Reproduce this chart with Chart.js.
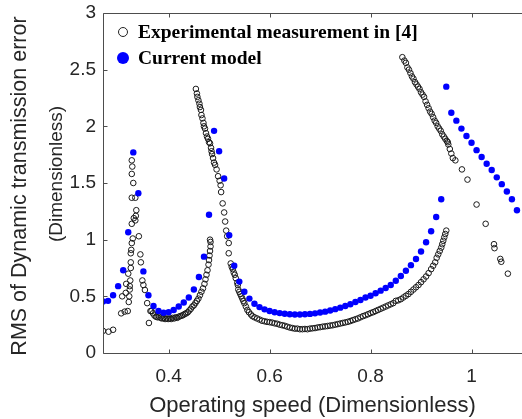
<!DOCTYPE html>
<html><head><meta charset="utf-8">
<script src="https://cdn.jsdelivr.net/npm/chart.js@4.4.1/dist/chart.umd.min.js"></script>
<style>
html,body{margin:0;padding:0;background:#fff;}
#wrap{position:relative;width:522px;height:419px;overflow:hidden;}
#legend{position:absolute;left:0;top:0;width:522px;height:80px;pointer-events:none;font:bold 19.5px "Liberation Serif","Times New Roman",serif;color:#000;}
.row{position:absolute;left:138px;white-space:nowrap;line-height:22px;height:22px;}
.mk{position:absolute;border-radius:50%;box-sizing:border-box;}
</style></head><body>
<div id="wrap"><canvas id="c" width="522" height="419"></canvas>
<div id="legend">
  <span class="mk" style="left:118px;top:27px;width:10px;height:10px;border:1.2px solid #222;background:#fff"></span>
  <span class="row" id="lg0" style="top:21px"></span>
  <span class="mk" style="left:117px;top:52px;width:12px;height:12px;background:#0000ff"></span>
  <span class="row" id="lg1" style="top:47px"></span>
</div></div>
<script>
// ---- data ----
const legendLabels = ['Experimental measurement in [4]', 'Current model'];
const xTitle = 'Operating speed (Dimensionless)';
const yTitle = ['RMS of Dynamic transmission error', '(Dimensionless)'];
const xTickValues = [0.4, 0.6, 0.8, 1.0];
const yTickValues = [0, 0.5, 1, 1.5, 2, 2.5, 3];

const expSpeed = [
0.270,0.281,0.290,
0.306,0.308,0.313,0.315,0.316,0.319,0.320,0.321,0.322,0.323,0.323,0.324,0.325,0.325,0.325,0.326,0.327,0.329,0.327,0.331,0.334,0.335,0.336,0.327,0.334,0.330,0.327,0.328,0.327,
0.341,0.344,0.345,0.348,0.350,0.353,0.3575,0.361,0.364,
0.366,0.369,0.372,0.375,0.378,0.381,0.384,0.387,0.390,0.393,0.396,0.399,0.402,0.405,0.408,0.411,0.414,0.417,0.420,0.423,0.426,0.429,0.432,0.435,0.438,0.441,0.444,0.447,0.450,0.453,0.456,0.459,0.462,0.465,0.468,0.471,0.473,0.475,0.477,0.479,0.480,0.481,0.482,0.483,0.483,0.482,
0.454,0.456,0.457,0.459,0.461,0.462,0.464,0.465,0.467,0.469,0.470,0.472,0.474,0.476,0.478,0.480,0.482,0.484,0.485,0.486,0.488,0.490,0.492,0.495,0.498,0.501,0.503,0.504,0.507,0.510,0.512,0.514,0.516,0.519,0.519,0.523,0.525,0.527,0.529,0.531,0.533,0.536,0.537,0.538,0.540,0.542,0.544,0.546,0.548,0.550,0.553,0.556,0.559,0.563,0.566,0.570,0.575,0.580,0.585,0.590,0.595,0.600,0.605,0.610,0.615,0.620,0.625,0.630,0.635,0.640,0.645,0.650,0.655,0.660,0.665,0.670,0.675,0.680,0.685,0.690,0.695,0.700,0.705,0.710,0.715,0.720,0.725,0.730,0.735,0.740,0.745,0.750,0.755,0.760,0.765,0.770,0.775,0.780,0.785,0.790,0.795,0.800,0.805,0.810,0.815,0.820,0.825,0.830,0.835,0.840,0.845,0.850,0.855,0.860,0.865,0.870,0.875,0.880,0.885,0.890,0.895,0.900,0.905,0.910,0.915,0.920,0.924,0.928,0.931,0.934,0.937,0.940,0.942,0.944,0.946,0.948,0.950,
0.863,0.867,0.870,0.873,0.876,0.879,0.882,0.885,0.888,0.891,0.894,0.897,0.900,0.903,0.906,0.909,0.912,0.915,0.918,0.921,0.924,0.927,0.930,0.933,0.936,0.939,0.942,0.945,0.948,0.951,0.954,0.953,0.957,0.960,0.963,0.968,0.981,0.992,1.010,1.028,1.0445,1.0455,1.057,1.059,1.072
];
const expRms = [
0.195,0.188,0.205,
0.35,0.50,0.365,0.53,0.61,0.37,0.70,0.45,0.50,0.56,0.59,0.64,0.75,0.80,0.88,0.91,0.97,1.01,1.14,1.19,1.17,1.21,1.26,1.37,1.37,1.50,1.58,1.645,1.70,
1.03,0.87,0.80,0.64,0.60,0.556,0.44,0.265,0.37,
0.37,0.35,0.33,0.32,0.315,0.32,0.31,0.305,0.31,0.30,0.305,0.30,0.305,0.30,0.31,0.305,0.315,0.31,0.32,0.325,0.33,0.335,0.345,0.35,0.36,0.375,0.39,0.41,0.42,0.44,0.46,0.48,0.51,0.54,0.57,0.61,0.65,0.69,0.73,0.78,0.82,0.86,0.90,0.94,0.98,1.00,
2.33,2.29,2.26,2.23,2.20,2.17,2.145,2.10,2.07,2.03,2.00,1.98,1.94,1.91,1.89,1.86,1.85,1.81,1.78,1.755,1.72,1.68,1.66,1.62,1.56,1.52,1.48,1.42,1.32,1.24,1.16,1.08,1.03,0.97,0.88,0.79,0.76,0.74,0.71,0.69,0.66,0.62,0.60,0.56,0.54,0.52,0.50,0.48,0.46,0.44,0.41,0.38,0.36,0.34,0.325,0.315,0.305,0.295,0.285,0.28,0.275,0.272,0.268,0.262,0.258,0.25,0.245,0.24,0.232,0.225,0.22,0.215,0.215,0.21,0.21,0.212,0.21,0.215,0.218,0.22,0.225,0.228,0.232,0.235,0.238,0.242,0.245,0.25,0.255,0.26,0.265,0.27,0.275,0.282,0.29,0.298,0.305,0.315,0.325,0.333,0.342,0.352,0.36,0.37,0.38,0.39,0.40,0.41,0.42,0.43,0.44,0.46,0.465,0.475,0.49,0.505,0.52,0.54,0.56,0.58,0.60,0.625,0.65,0.675,0.705,0.74,0.77,0.80,0.84,0.87,0.90,0.93,0.96,0.99,1.02,1.05,1.08,
2.61,2.58,2.56,2.52,2.50,2.47,2.44,2.42,2.39,2.37,2.35,2.33,2.30,2.28,2.26,2.22,2.19,2.16,2.13,2.11,2.08,2.05,2.03,2.00,1.98,1.96,1.93,1.91,1.89,1.87,1.84,1.86,1.80,1.76,1.72,1.70,1.62,1.53,1.31,1.14,0.96,0.925,0.83,0.805,0.70
];

const modelSpeed = [
0.27,0.28,0.29,0.30,0.31,0.32,0.33,0.34,0.35,0.36,0.37,0.38,0.39,0.40,0.41,0.42,0.43,0.44,0.45,0.46,0.47,0.48,0.49,0.50,0.51,0.52,0.53,0.54,0.55,0.56,0.57,0.58,0.59,0.60,0.61,0.62,0.63,0.64,0.65,0.66,0.67,0.68,0.69,0.70,0.71,0.72,0.73,0.74,0.75,0.76,0.77,0.78,0.79,0.80,0.81,0.82,0.83,0.84,0.85,0.86,0.87,0.88,0.89,0.90,0.91,0.92,0.93,0.94,0.95,0.96,0.97,0.98,0.99,1.00,1.01,1.02,1.03,1.04,1.05,1.06,1.07,1.08,1.09
];
const modelRms = [
0.455,0.46,0.51,0.59,0.73,1.065,1.77,1.41,0.72,0.51,0.415,0.37,0.355,0.36,0.38,0.41,0.445,0.49,0.56,0.67,0.85,1.22,1.96,1.78,1.54,1.04,0.77,0.63,0.54,0.48,0.435,0.405,0.385,0.37,0.36,0.352,0.346,0.342,0.34,0.34,0.342,0.345,0.35,0.357,0.365,0.375,0.387,0.40,0.415,0.43,0.45,0.468,0.49,0.505,0.527,0.55,0.573,0.60,0.638,0.68,0.726,0.775,0.83,0.895,0.977,1.074,1.20,1.357,2.35,2.12,2.05,1.98,1.915,1.855,1.79,1.73,1.67,1.615,1.55,1.49,1.425,1.357,1.26
];

document.getElementById('lg0').textContent = legendLabels[0];
document.getElementById('lg1').textContent = legendLabels[1];

const axisColor = '#262626';
const fontFam = '"Liberation Sans", Arial, Helvetica, sans-serif';
const fmt = v => String(+Number(v).toFixed(2));

const boxPlugin = {
  id: 'boxPlugin',
  afterDraw(chart) {
    const ctx = chart.ctx, a = chart.chartArea;
    const xs = chart.scales.x, ys = chart.scales.y;
    ctx.save();
    ctx.strokeStyle = '#4d4d4d';
    ctx.lineWidth = 1;
    const L = Math.round(a.left) + 0.5, B = Math.round(a.bottom) + 0.5, T = Math.round(a.top) + 0.5, R = a.right;
    ctx.beginPath();
    ctx.moveTo(L, T); ctx.lineTo(R, T);
    ctx.moveTo(L, T); ctx.lineTo(L, B); ctx.lineTo(R, B);
    xTickValues.forEach(v => {
      const px = Math.round(xs.getPixelForValue(v)) + 0.5;
      ctx.moveTo(px, B); ctx.lineTo(px, B - 4);
      ctx.moveTo(px, T); ctx.lineTo(px, T + 4);
    });
    yTickValues.forEach(v => {
      const py = Math.round(ys.getPixelForValue(v)) + 0.5;
      ctx.moveTo(L, py); ctx.lineTo(L + 4, py);
    });
    ctx.stroke();
    // y-axis title (two lines, rotated)
    const cy = (a.top + a.bottom) / 2;
    ctx.fillStyle = axisColor;
    ctx.textAlign = 'center';
    ctx.textBaseline = 'middle';
    [[yTitle[0], 20, cy + 3, 21.5], [yTitle[1], 57, cy - 9, 19]].forEach(([t, x, y, s]) => {
      ctx.save();
      ctx.translate(x, y);
      ctx.rotate(-Math.PI / 2);
      ctx.font = s + 'px ' + fontFam;
      ctx.fillText(t, 0, 0);
      ctx.restore();
    });
    ctx.restore();
  }
};

new Chart(document.getElementById('c'), {
  type: 'scatter',
  data: {
    datasets: [
      {
        label: legendLabels[1],
        data: modelSpeed.map((x, i) => ({x, y: modelRms[i]})),
        pointStyle: 'circle', pointRadius: 3.2, pointBorderWidth: 0,
        pointBackgroundColor: '#0000ff', pointBorderColor: '#0000ff',
        showLine: false, order: 0
      },
      {
        label: legendLabels[0],
        data: expSpeed.map((x, i) => ({x, y: expRms[i]})),
        pointStyle: 'circle', pointRadius: 2.8, pointBorderWidth: 1,
        pointBackgroundColor: 'rgba(255,255,255,0)', pointBorderColor: '#1a1a1a',
        showLine: false, order: 1
      }
    ]
  },
  options: {
    responsive: false, animation: false, devicePixelRatio: 1,
    layout: { autoPadding: false, padding: { top: 13, right: -7, left: 0, bottom: 0 } },
    plugins: { legend: { display: false }, tooltip: { enabled: false } },
    scales: {
      x: {
        type: 'linear', min: 0.27, max: 1.1,
        afterBuildTicks: s => { s.ticks = xTickValues.map(v => ({value: v})); },
        afterFit: s => { s.height = 66; s.paddingLeft = 0; s.paddingRight = 0; },
        grid: { display: false, drawTicks: false },
        border: { display: false },
        ticks: { callback: v => fmt(v), color: axisColor, font: { family: fontFam, size: 19 }, padding: 12, maxRotation: 0, autoSkip: false },
        title: { display: true, text: xTitle, color: axisColor, font: { family: fontFam, size: 22 }, padding: 0 }
      },
      y: {
        type: 'linear', min: 0, max: 3,
        afterBuildTicks: s => { s.ticks = yTickValues.map(v => ({value: v})); },
        afterFit: s => { s.width = 103; s.paddingTop = 0; s.paddingBottom = 0; },
        grid: { display: false, drawTicks: false },
        border: { display: false },
        ticks: { callback: v => fmt(v), color: axisColor, font: { family: fontFam, size: 19 }, padding: 7, autoSkip: false },
        title: { display: false }
      }
    }
  },
  plugins: [boxPlugin]
});
</script>
</body></html>
